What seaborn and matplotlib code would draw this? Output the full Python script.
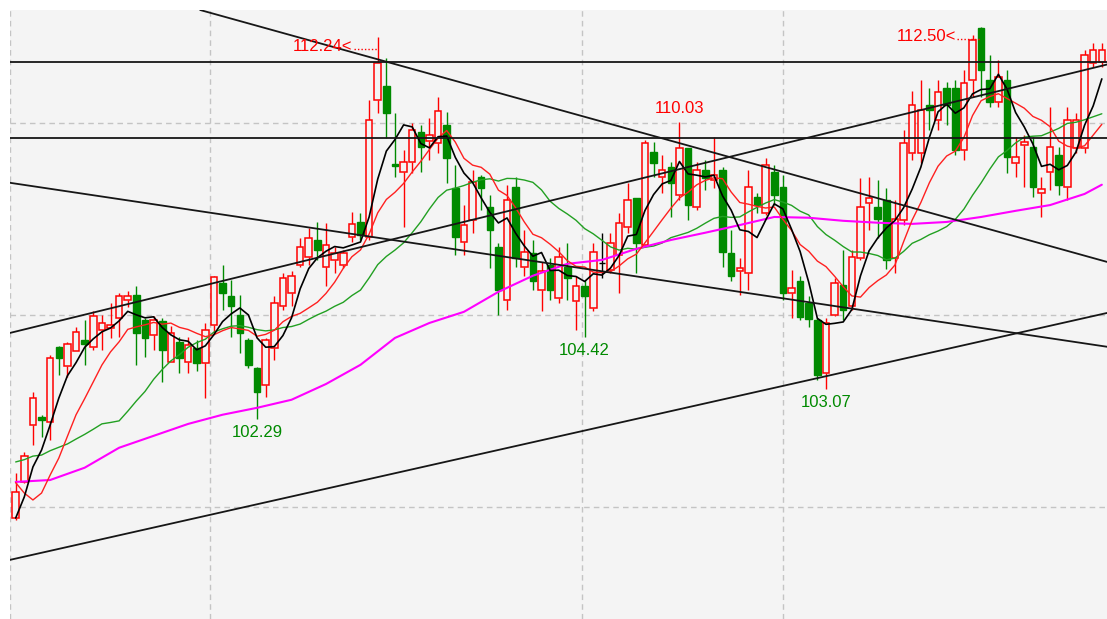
import matplotlib
matplotlib.use("Agg")
import matplotlib.pyplot as plt
from matplotlib.patches import Rectangle
import seaborn as sns
import pandas as pd

# daily candles, left to right
opens = [
    99.71, 100.65, 102.14, 102.35, 102.22, 104.17, 103.68, 104.07, 104.35, 104.16,
    104.60, 104.66, 104.91, 105.39, 105.52, 104.87, 104.48, 104.83, 103.78, 104.30,
    103.78, 104.15, 103.74, 104.74, 105.83, 105.48, 105.00, 104.35, 103.61, 103.18,
    104.13, 105.22, 105.57, 106.30, 106.52, 106.95, 106.26, 106.43, 106.30, 107.03,
    107.43, 107.04, 110.60, 110.95, 108.92, 108.73, 108.99, 109.77, 109.52, 109.47,
    109.95, 108.30, 106.91, 107.47, 108.60, 107.82, 106.78, 105.39, 108.34, 106.26,
    106.61, 105.65, 106.30, 105.43, 106.26, 105.35, 105.74, 105.17, 106.35, 106.17,
    106.56, 107.30, 108.04, 106.82, 109.25, 108.60, 108.86, 108.13, 109.34, 107.82,
    108.78, 108.52, 108.78, 106.61, 106.13, 106.09, 108.08, 107.65, 108.73, 108.34,
    105.56, 105.87, 105.30, 104.87, 103.48, 105.00, 105.78, 105.22, 106.48, 107.91,
    107.80, 107.99, 106.48, 107.47, 109.22, 109.22, 110.47, 110.08, 110.91, 110.91,
    109.30, 111.12, 112.48, 111.12, 110.55, 111.12, 108.96, 109.43, 109.38, 108.17,
    108.72, 109.17, 108.33, 109.35, 109.35, 111.56, 111.59]
highs = [
    100.89, 101.42, 102.98, 102.40, 103.96, 104.20, 104.30, 104.68, 104.87, 105.09,
    105.00, 105.30, 105.57, 105.63, 105.74, 104.92, 104.96, 104.91, 104.70, 104.43,
    104.43, 104.35, 104.79, 106.00, 106.30, 105.91, 105.52, 104.40, 103.65, 104.40,
    105.48, 106.09, 106.13, 107.00, 107.26, 107.43, 107.40, 106.78, 106.69, 107.69,
    107.66, 110.60, 112.24, 111.68, 110.26, 109.30, 110.00, 109.95, 110.13, 110.68,
    110.29, 108.91, 107.86, 108.78, 108.65, 108.13, 106.87, 108.39, 108.60, 107.21,
    106.95, 106.39, 106.48, 106.78, 106.87, 106.00, 105.91, 106.87, 107.13, 107.13,
    107.66, 108.43, 108.04, 109.56, 109.51, 109.17, 108.99, 110.03, 109.34, 108.99,
    109.04, 109.64, 108.86, 107.21, 106.48, 108.78, 108.17, 109.08, 108.91, 108.65,
    106.17, 106.00, 105.50, 104.91, 104.91, 105.96, 106.69, 106.69, 108.56, 108.60,
    108.50, 108.30, 108.00, 109.82, 110.82, 111.12, 110.91, 111.12, 111.07, 111.12,
    111.38, 112.30, 112.50, 111.77, 111.64, 111.38, 109.64, 109.69, 109.64, 108.59,
    110.42, 109.38, 110.42, 110.26, 111.90, 112.08, 112.08]
lows = [
    99.66, 100.62, 101.61, 101.83, 101.74, 103.44, 103.39, 104.05, 103.70, 104.09,
    104.09, 104.40, 104.43, 105.20, 103.70, 103.90, 104.09, 103.26, 103.78, 103.48,
    103.48, 103.54, 102.84, 104.49, 105.13, 104.43, 104.00, 103.62, 102.29, 102.87,
    103.83, 105.13, 105.22, 106.26, 106.30, 106.43, 105.74, 106.09, 106.22, 106.91,
    106.95, 106.95, 110.26, 109.60, 108.60, 107.30, 108.70, 108.73, 109.04, 109.21,
    108.43, 106.56, 106.56, 107.13, 107.73, 106.22, 105.00, 105.13, 106.26, 106.00,
    105.65, 105.09, 105.39, 105.30, 105.39, 104.61, 104.42, 105.09, 105.96, 106.09,
    105.57, 107.13, 106.09, 106.78, 108.60, 108.17, 107.56, 107.99, 107.47, 107.73,
    108.26, 108.30, 106.26, 105.87, 105.52, 105.65, 107.65, 107.60, 107.86, 105.39,
    104.91, 104.87, 104.69, 103.31, 103.07, 104.96, 104.87, 105.13, 106.43, 107.21,
    107.00, 106.20, 106.10, 107.34, 109.04, 108.96, 109.82, 109.82, 109.95, 109.17,
    109.04, 110.68, 110.68, 110.42, 110.42, 108.70, 108.59, 108.33, 108.07, 107.55,
    108.26, 108.13, 107.99, 109.22, 109.22, 111.46, 111.46]
closes = [
    100.39, 101.32, 102.84, 102.25, 103.87, 103.87, 104.24, 104.55, 104.24, 104.98,
    104.78, 104.74, 105.48, 105.48, 104.52, 104.40, 104.87, 104.09, 104.52, 103.87,
    104.22, 103.75, 104.61, 105.98, 105.57, 105.22, 104.52, 103.70, 103.00, 104.35,
    105.30, 105.96, 106.00, 106.78, 107.00, 106.69, 106.82, 106.61, 106.61, 107.37,
    107.08, 110.08, 111.55, 110.25, 108.87, 108.99, 109.82, 109.38, 109.69, 110.32,
    109.08, 107.04, 107.34, 108.47, 108.30, 107.21, 105.65, 107.99, 106.48, 106.65,
    105.87, 106.13, 105.65, 106.52, 105.96, 105.74, 105.48, 106.65, 106.35, 106.87,
    107.39, 107.99, 106.87, 109.47, 108.95, 108.78, 108.43, 109.34, 107.86, 108.78,
    108.56, 108.65, 106.65, 106.00, 106.22, 108.34, 107.86, 108.91, 108.13, 105.56,
    105.70, 104.95, 104.90, 103.44, 104.78, 105.83, 105.13, 106.52, 107.82, 108.04,
    107.50, 106.43, 107.50, 109.48, 110.47, 110.34, 110.34, 110.81, 110.47, 109.30,
    111.04, 112.16, 111.38, 110.55, 111.20, 109.11, 109.11, 109.51, 108.33, 108.28,
    109.38, 108.39, 110.08, 110.08, 111.77, 111.90, 111.90]

# closes before the visible window (estimated from where the averages start)
prior_closes = [100.12, 101.00, 101.70, 101.60, 102.10, 102.50, 102.00, 101.80, 102.30, 101.98,
                104.02, 104.64, 100.45, 99.17, 99.47, 98.57, 98.94, 100.05, 100.60]

# 60-day average
ma60_idx = [0, 4, 8, 12, 16, 20, 24, 28, 32, 36, 40, 44, 48, 52, 56, 60, 64,
            68, 72, 76, 80, 84, 88, 92, 96, 100, 104, 108, 112, 116, 120, 124, 126]
ma60_vals = [100.65, 100.70, 101.02, 101.54, 101.85, 102.16, 102.40, 102.58, 102.79,
             103.20, 103.70, 104.40, 104.79, 105.08, 105.60, 106.02, 106.33, 106.43,
             106.72, 106.95, 107.14, 107.34, 107.55, 107.53, 107.45, 107.40, 107.37,
             107.42, 107.55, 107.71, 107.86, 108.15, 108.39]

# drawn lines: horizontal levels and trend lines (start idx, start price, end idx, end price)
level_prices = [111.59, 109.61]
trend_starts_x = [21.4, -0.66, -0.66, -0.66]
trend_starts_p = [112.94, 108.44, 104.53, 98.62]
trend_ends_x = [126.6, 126.6, 126.6, 126.6]
trend_ends_p = [106.38, 104.17, 111.52, 105.05]

grid_prices = [110, 105, 100]
grid_idx = [-0.66, 22.54, 65.7, 89.0]

high_arrow_idx = [42, 112]
high_top_idx = [77]
low_idx = [28, 66, 94]

UP = '#ff0000'
DOWN = '#008a00'
BG = '#f4f4f4'

sns.set_style("white")
plt.rcParams['font.family'] = ['Liberation Sans', 'DejaVu Sans']

fig = plt.figure(figsize=(11.07, 6.19), dpi=100)
ax = fig.add_axes([10 / 1107, 0, 1 - 10 / 1107, 609 / 619])
ax.set_facecolor(BG)

for p in grid_prices:
  ax.axhline(p, color='#c4c4c4', lw=1, ls=(0, (4, 3)), zorder=1)
for gx in grid_idx:
  ax.axvline(gx, color='#c4c4c4', lw=1, ls=(0, (4, 3)), zorder=1)

w = 0.76
for i, (o, h, l, c) in enumerate(zip(opens, highs, lows, closes)):
  if c > o:
    ax.vlines(i, l, o, color=UP, lw=1, zorder=2)
    ax.vlines(i, c, h, color=UP, lw=1, zorder=2)
    ax.add_patch(Rectangle((i - w / 2, o), w, c - o, facecolor=BG,
                           edgecolor=UP, lw=1.1, zorder=2))
  elif c < o:
    ax.vlines(i, l, h, color=DOWN, lw=1, zorder=2)
    ax.add_patch(Rectangle((i - w / 2, c), w, o - c, facecolor=DOWN,
                           edgecolor=DOWN, lw=1, zorder=2))
  else:
    ax.vlines(i, l, h, color='black', lw=1, zorder=2)
    ax.hlines(o, i - w / 2, i + w / 2, color='black', lw=1, zorder=2)

# moving averages
full = pd.Series(prior_closes + closes)
n = len(closes)
df = pd.DataFrame({
  'idx': range(n),
  'ma5': full.rolling(5).mean().iloc[-n:].values,
  'ma10': full.rolling(10).mean().iloc[-n:].values,
  'ma20': full.rolling(20).mean().iloc[-n:].values,
})
sns.lineplot(data=df, x='idx', y='ma20', color='#22a022', lw=1, ax=ax, zorder=3)
sns.lineplot(x=ma60_idx, y=ma60_vals, color='#ff00ff', lw=1.5, ax=ax, zorder=3)
sns.lineplot(data=df, x='idx', y='ma10', color='#ff2020', lw=1, ax=ax, zorder=3)
sns.lineplot(data=df, x='idx', y='ma5', color='black', lw=1.2, ax=ax, zorder=3)

for p in level_prices:
  ax.axhline(p, color='#161616', lw=1.3, zorder=4)
for x0, p0, x1, p1 in zip(trend_starts_x, trend_starts_p, trend_ends_x, trend_ends_p):
  ax.plot([x0, x1], [p0, p1], color='#161616', lw=1.3, zorder=4)

# price labels
for k in high_arrow_idx:
  hi = highs[k]
  ax.annotate(f'{hi:.2f}<', xy=(k, hi), xytext=(-25, -10), textcoords='offset pixels',
              ha='right', va='center', color=UP, fontsize=12, zorder=5)
  ax.plot([k - 24 / 8.62, k], [hi - 12 / 38.4, hi - 12 / 38.4], color=UP,
          lw=1, ls=(0, (1, 1.5)), zorder=5)
for k in high_top_idx:
  ax.annotate(f'{highs[k]:.2f}', xy=(k, highs[k]), xytext=(0, 6), textcoords='offset pixels',
              ha='center', va='bottom', color=UP, fontsize=12, zorder=5)
for k in low_idx:
  ax.annotate(f'{lows[k]:.2f}', xy=(k, lows[k]), xytext=(0, -6), textcoords='offset pixels',
              ha='center', va='top', color=DOWN, fontsize=12, zorder=5)

ax.set_xlim(-0.66, 126.6)
ax.set_ylim(97.08, 112.94)
ax.set_xlabel('')
ax.set_ylabel('')
ax.set_xticks([])
ax.set_yticks([])
for s in ax.spines.values():
  s.set_visible(False)
if ax.get_legend():
  ax.get_legend().remove()

fig.savefig('out.png', dpi=100, facecolor='white')
